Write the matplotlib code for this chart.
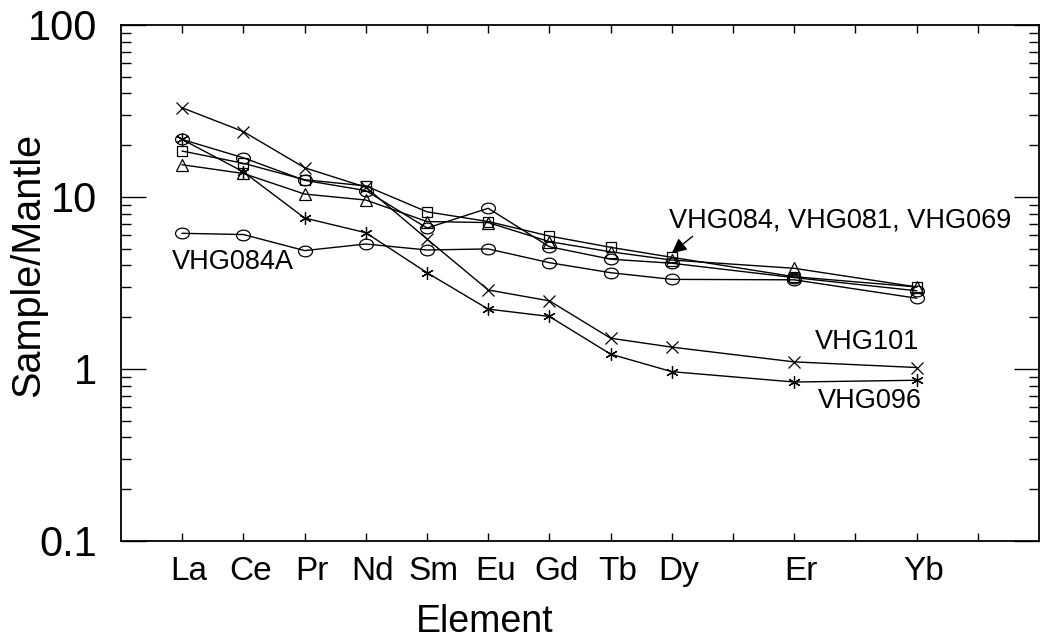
import numpy as np
import matplotlib
matplotlib.use('Agg')
import matplotlib.pyplot as plt
from matplotlib.path import Path
from matplotlib.transforms import Affine2D, ScaledTranslation
from matplotlib.ticker import FixedLocator, FixedFormatter, LogLocator, NullFormatter

# REE pattern, normalised to primitive mantle
elements = ['La', 'Ce', 'Pr', 'Nd', 'Sm', 'Eu', 'Gd', 'Tb', 'Dy', 'Er', 'Yb']
element_pos = [0, 1, 2, 3, 4, 5, 6, 7, 8, 10, 12]

vhg101 = [33.0, 24.0, 14.8, 11.4, 5.7, 2.88, 2.49, 1.51, 1.34, 1.10, 1.02]
vhg096 = [21.6, 14.0, 7.55, 6.2, 3.63, 2.23, 2.02, 1.22, 0.965, 0.84, 0.86]
vhg084a = [6.15, 6.05, 4.88, 5.33, 4.92, 4.99, 4.15, 3.63, 3.32, 3.30, 2.58]
vhg084 = [18.5, 15.7, 12.6, 11.6, 8.2, 7.2, 5.93, 5.1, 4.46, 3.44, 3.0]
vhg081 = [15.4, 13.7, 10.4, 9.6, 7.2, 7.1, 5.5, 4.8, 4.3, 3.85, 3.0]
vhg069 = [21.6, 16.9, 12.5, 10.9, 6.6, 8.6, 5.14, 4.35, 4.12, 3.40, 2.85]

FONT = ['Liberation Sans', 'DejaVu Sans']

# slightly flattened circle and a six-armed asterisk
ellipse = Path.unit_circle().transformed(Affine2D().scale(1.3, 1.0))
asterisk = (6, 2, 0)

fig = plt.figure(figsize=(10.41, 6.44), dpi=100)
ax = fig.add_axes([121 / 1041, 103 / 644, 918 / 1041, 516 / 644])

style = dict(color='black', lw=1.0, mfc='none', mec='black', mew=0.9)
ax.plot(element_pos, vhg084a, marker=ellipse, ms=10, **style)
ax.plot(element_pos, vhg069, marker=ellipse, ms=10, **style)
ax.plot(element_pos, vhg084, marker='s', ms=7.5, **style)
ax.plot(element_pos, vhg081, marker='^', ms=8, **style)
ax.plot(element_pos, vhg101, marker='x', ms=8, **style)
ax.plot(element_pos, vhg096, marker=asterisk, ms=9, **style)

ax.set_yscale('log')
ax.set_ylim(0.1, 100)
ax.set_xlim(-1, 14)

# ticks on all four sides, pointing inward
ax.yaxis.set_major_locator(FixedLocator([0.1, 1, 10, 100]))
ax.yaxis.set_major_formatter(FixedFormatter(['0.1', '1', '10', '100']))
ax.yaxis.set_minor_locator(LogLocator(base=10, subs=np.arange(2, 10)))
ax.yaxis.set_minor_formatter(NullFormatter())

xt = list(range(14))
xl = [elements[element_pos.index(i)] if i in element_pos else '' for i in xt]
ax.xaxis.set_major_locator(FixedLocator(xt))
ax.xaxis.set_major_formatter(FixedFormatter(xl))

ax.tick_params(axis='y', which='major', direction='in', length=18, width=1,
               right=True, labelsize=30, pad=17)
ax.tick_params(axis='y', which='minor', direction='in', length=7, width=1,
               right=True)
ax.tick_params(axis='x', which='major', direction='in', length=6, width=1,
               top=True, labelsize=24, pad=11)
for lbl in ax.get_yticklabels() + ax.get_xticklabels():
    lbl.set_family(FONT)

shift = ScaledTranslation(7 / 100, 0, fig.dpi_scale_trans)
for lbl in ax.get_xticklabels():
    lbl.set_transform(lbl.get_transform() + shift)

for sp in ax.spines.values():
    sp.set_linewidth(1.3)

ax.set_xlabel('Element', fontsize=27, family=FONT)
ax.set_ylabel('Sample/Mantle', fontsize=28.5, family=FONT)
ax.xaxis.set_label_coords(0.396, -0.157)
ax.xaxis.label.set_va('center')
ax.yaxis.set_label_coords(-0.101, 0.535)
ax.yaxis.label.set_va('center')

# sample labels
ax.text(-0.17, 4.19, 'VHG084A', fontsize=19.5, family=FONT, va='center', ha='left')
ax.text(10.34, 1.44, 'VHG101', fontsize=19.5, family=FONT, va='center', ha='left')
ax.text(10.39, 0.65, 'VHG096', fontsize=19.5, family=FONT, va='center', ha='left')
ax.annotate('VHG084, VHG081, VHG069', xy=(8.0, 4.72), xytext=(7.95, 7.3),
            fontsize=19.5, family=FONT, va='center', ha='left',
            arrowprops=dict(arrowstyle='-|>', color='black', lw=1,
                            mutation_scale=22, shrinkA=0, shrinkB=0,
                            relpos=(0.08, 0.0)))

fig.savefig('out.png', dpi=100)
